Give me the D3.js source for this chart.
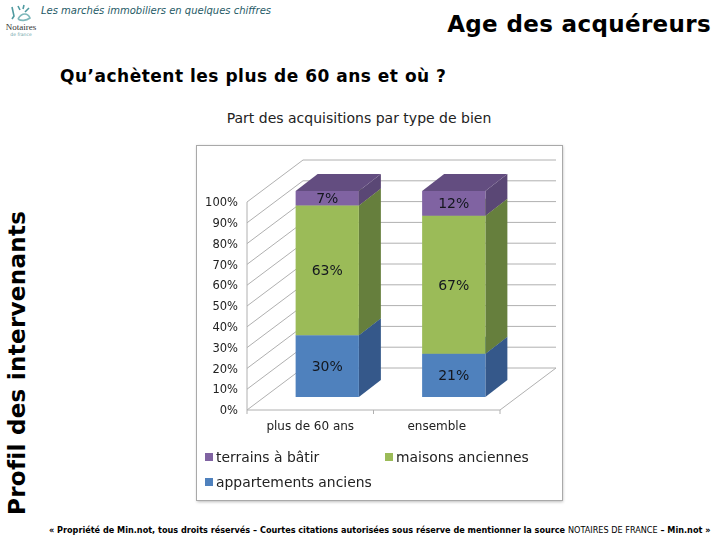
<!DOCTYPE html>
<html>
<head>
<meta charset="utf-8">
<title>Age des acquéreurs</title>
<script src="https://cdn.jsdelivr.net/npm/d3@7"></script>
<style>
  html, body { margin: 0; padding: 0; background: #fff; }
  svg { display: block; }
  text { font-family: "DejaVu Sans", sans-serif; }
</style>
</head>
<body>
<script>
// values
var categories = ["plus de 60 ans", "ensemble"];
var appartements = [30, 21];
var maisons = [63, 67];
var terrains = [7, 12];
var seriesNames = ["appartements anciens", "maisons anciennes", "terrains à bâtir"];
var yTicks = [0, 10, 20, 30, 40, 50, 60, 70, 80, 90, 100];

var w = 720, h = 540;

var svg = d3.select("body").append("svg")
  .attr("width", w)
  .attr("height", h);

// slight softening, the chart in the reference is a pasted bitmap
var defs = svg.append("defs");
defs.append("filter").attr("id", "soft")
  .append("feGaussianBlur").attr("stdDeviation", 0.35);
var shadow = defs.append("filter").attr("id", "shadow")
  .attr("x", "-5%").attr("y", "-5%").attr("width", "110%").attr("height", "110%");
shadow.append("feGaussianBlur").attr("stdDeviation", 1.5);

// ---- page texts
svg.append("text").attr("x", 41).attr("y", 14)
  .attr("font-size", 10).attr("font-style", "italic").attr("fill", "#1f5a66")
  .text("Les marchés immobiliers en quelques chiffres");

svg.append("text").attr("x", 711).attr("y", 32)
  .attr("text-anchor", "end").attr("font-size", 23).attr("font-weight", "bold")
  .attr("letter-spacing", 0.35)
  .text("Age des acquéreurs");

svg.append("text").attr("x", 60).attr("y", 82)
  .attr("font-size", 17).attr("font-weight", "bold").attr("letter-spacing", 0.5)
  .text("Qu’achètent les plus de 60 ans et où ?");

svg.append("text").attr("x", 359).attr("y", 123)
  .attr("text-anchor", "middle").attr("font-size", 14).attr("fill", "#222")
  .text("Part des acquisitions par type de bien");

svg.append("text")
  .attr("transform", "translate(25,515) rotate(-90)")
  .attr("font-size", 23).attr("font-weight", "bold").attr("letter-spacing", 0.3)
  .text("Profil des intervenants");

var foot = svg.append("text").attr("x", 49).attr("y", 533)
  .attr("font-size", 8.15).attr("font-weight", "bold");
foot.append("tspan").text("« Propriété de Min.not, tous droits réservés – Courtes citations autorisées sous réserve de mentionner la source ");
foot.append("tspan").attr("font-weight", "normal").text("NOTAIRES DE FRANCE");
foot.append("tspan").text(" – Min.not »");

// ---- small logo
var logo = svg.append("g").attr("fill", "none").attr("stroke", "#4f9aa0").attr("stroke-width", 1.6);
logo.append("path").attr("d", "M12,7 L14,16 L12,19");
logo.append("path").attr("d", "M18,6 L20,10 M24,5 L23,9 M29,8 L25,12");
logo.append("path").attr("d", "M18,19 C22,12 28,13 30,18 C26,21 21,21 18,19").attr("stroke", "#7fb8bb");
svg.append("text").attr("x", 21).attr("y", 30).attr("text-anchor", "middle")
  .attr("font-size", 9).attr("fill", "#333")
  .style("font-family", "'Liberation Serif', serif").text("Notaires");
svg.append("text").attr("x", 21).attr("y", 36).attr("text-anchor", "middle")
  .attr("font-size", 4.5).attr("fill", "#6aa3a8").text("de france");

// ---- chart panel
var panel = svg.append("g").attr("filter", "url(#soft)");

svg.insert("rect", "g").attr("x", 197).attr("y", 146).attr("width", 366).attr("height", 356)
  .attr("fill", "#bbb").attr("filter", "url(#shadow)");
panel.append("rect").attr("x", 196.5).attr("y", 145.5).attr("width", 366).attr("height", 355)
  .attr("fill", "#fff").attr("stroke", "#a9a9a9");

// front plane scales
var x = d3.scaleBand().domain(categories).range([247, 500])
  .paddingInner(0.5).paddingOuter(0.25);
var y = d3.scaleLinear().domain([0, 100]).range([410, 202]);
// bars sit further back, so their scale is a little shorter
var barY = d3.scaleLinear().domain([0, 100]).range([397, 191]);

// oblique offsets of the back wall and of the bars
var depthX = 56, depthY = -42;
var barShift = 17;
var sideX = 22, sideY = -17;
var backRight = x.range()[1] + depthX;

var grid = panel.append("g").attr("fill", "none").attr("stroke", "#b0b0b0").attr("stroke-width", 1);

yTicks.forEach(function(t) {
  grid.append("path")
    .attr("d", d3.line()([
      [x.range()[0], y(t)],
      [x.range()[0] + depthX, y(t) + depthY],
      [backRight, y(t) + depthY]
    ]));
});
// floor and left axis
grid.append("path").attr("d", d3.line()([
  [x.range()[0], y(0)], [x.range()[1], y(0)], [backRight, y(0) + depthY]
]));
grid.append("path").attr("d", d3.line()([[x.range()[0], y(0)], [x.range()[0], y(100)]]));

// axes only for their labels and ticks
var yAxis = d3.axisLeft(y).tickValues(yTicks).tickFormat(function(d) { return d + "%"; })
  .tickSize(0).tickPadding(9);
panel.append("g").attr("transform", "translate(" + x.range()[0] + ",0)").call(yAxis)
  .call(function(g) {
    g.select(".domain").remove();
    g.selectAll("text").attr("font-size", 11.5).attr("fill", "#222").style("font-family", "'DejaVu Sans', sans-serif");
  });

var xAxis = d3.axisBottom(x).tickSize(0).tickPadding(11);
panel.append("g").attr("transform", "translate(0," + y(0) + ")").call(xAxis)
  .call(function(g) {
    g.select(".domain").remove();
    g.selectAll("text").attr("font-size", 12).attr("fill", "#222").style("font-family", "'DejaVu Sans', sans-serif");
  });
// category separators below the floor line
[x.range()[0], (x.range()[0] + x.range()[1]) / 2, x.range()[1]].forEach(function(px) {
  grid.append("line").attr("x1", px).attr("x2", px).attr("y1", y(0)).attr("y2", y(0) + 4);
});

// ---- stacked bars
var table = categories.map(function(c, i) {
  return { cat: c, appartements: appartements[i], maisons: maisons[i], terrains: terrains[i] };
});
var keys = ["appartements", "maisons", "terrains"];
var stack = d3.stack().keys(keys)(table);

var front = d3.scaleOrdinal().domain(keys).range(["#4f81bd", "#9bbb59", "#8064a2"]);
var side = d3.scaleOrdinal().domain(keys).range(["#35598a", "#667f3c", "#5a4674"]);
var top3d = d3.scaleOrdinal().domain(keys).range(["#456fa3", "#86a24c", "#644e80"]);

stack.forEach(function(layer) {
  var k = layer.key;
  var g = panel.append("g");
  layer.forEach(function(d) {
    var x0 = x(d.data.cat) + barShift;
    var x1 = x0 + x.bandwidth();
    var yBot = barY(d[0]);
    var yTop = barY(d[1]);
    // side
    g.append("path").attr("fill", side(k)).attr("d", d3.line()([
      [x1, yBot], [x1 + sideX, yBot + sideY], [x1 + sideX, yTop + sideY], [x1, yTop]
    ]) + "Z");
    // top
    g.append("path").attr("fill", top3d(k)).attr("d", d3.line()([
      [x0, yTop], [x1, yTop], [x1 + sideX, yTop + sideY], [x0 + sideX, yTop + sideY]
    ]) + "Z");
    // front
    g.append("rect").attr("x", x0).attr("y", yTop)
      .attr("width", x.bandwidth()).attr("height", yBot - yTop)
      .attr("fill", front(k));
    // value label
    g.append("text").attr("x", x0 + x.bandwidth() / 2).attr("y", (yTop + yBot) / 2)
      .attr("dy", "0.36em").attr("text-anchor", "middle")
      .attr("font-size", 14).attr("fill", "#14181f")
      .text(d.data[k] + "%");
  });
});

// ---- legend
var legendPos = [
  { key: "terrains", label: seriesNames[2], lx: 205, ly: 457 },
  { key: "maisons", label: seriesNames[1], lx: 385, ly: 457 },
  { key: "appartements", label: seriesNames[0], lx: 205, ly: 482 }
];
var legend = panel.selectAll("g.legend").data(legendPos).enter().append("g").attr("class", "legend");
legend.append("rect")
  .attr("x", function(d) { return d.lx; })
  .attr("y", function(d) { return d.ly - 4; })
  .attr("width", 8).attr("height", 8)
  .attr("fill", function(d) { return front(d.key); });
legend.append("text")
  .attr("x", function(d) { return d.lx + 11; })
  .attr("y", function(d) { return d.ly; })
  .attr("dy", "0.36em")
  .attr("font-size", 13.9).attr("fill", "#222")
  .text(function(d) { return d.label; });
</script>
</body>
</html>
